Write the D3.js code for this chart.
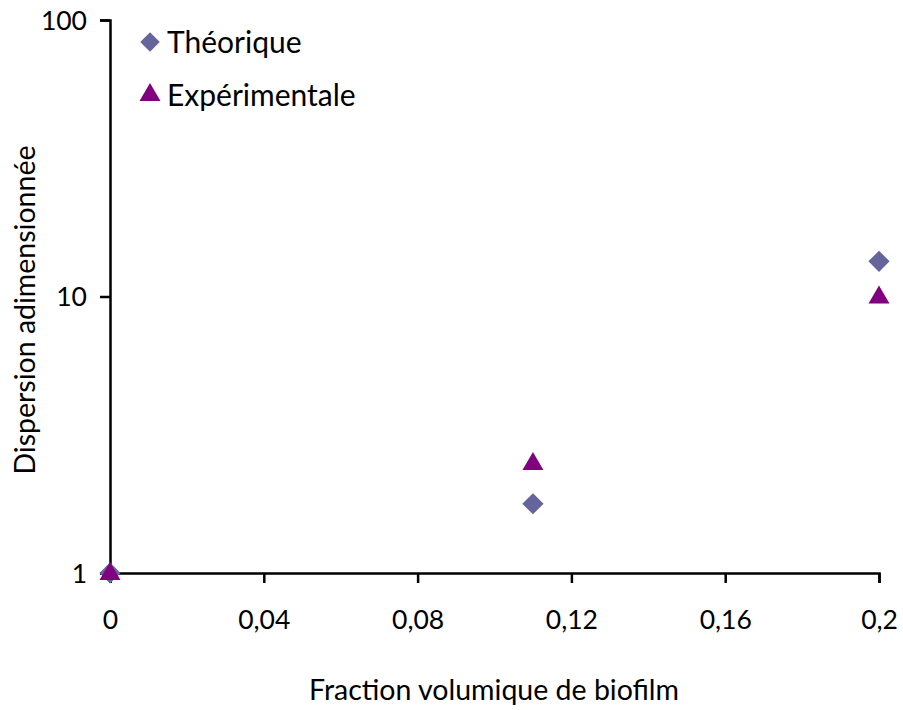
<!DOCTYPE html>
<html><head><meta charset="utf-8">
<script src="https://cdn.jsdelivr.net/npm/d3@7"></script>
<style>body{margin:0;background:#fff;} text{font-family:Lato, "Open Sans", sans-serif;}</style>
</head><body>
<svg id="c" width="903" height="710"></svg>
<script>
const fractions = [0, 0.11, 0.2];
const theorique = [1, 1.78, 13.4];
const experimentale = [1, 2.5, 10];
const xTicks = [0, 0.04, 0.08, 0.12, 0.16, 0.2];
const yTicks = [1, 10, 100];
const seriesNames = ["Théorique", "Expérimentale"];
const colors = ["#65659b", "#800080"];

const svg = d3.select("#c");
const x = d3.scaleLinear().domain([0, 0.2]).range([110, 879]);
const y = d3.scaleLog().domain([1, 100]).range([573, 20]);
const fmt = d => d === 0 ? "0" : String(d).replace(".", ",");

const xAxis = svg.append("g").attr("transform", "translate(0,573)")
  .call(d3.axisBottom(x).tickValues(xTicks).tickFormat(fmt).tickSize(10).tickPadding(27));
const yAxis = svg.append("g").attr("transform", "translate(110,0)")
  .call(d3.axisLeft(y).tickValues(yTicks).tickFormat(d3.format("d")).tickSize(10).tickPadding(13));
[xAxis, yAxis].forEach(a => {
  a.select(".domain").attr("stroke", "#000").attr("stroke-width", 2.5);
  a.selectAll(".tick line").attr("stroke", "#000").attr("stroke-width", 2.5);
  a.selectAll(".tick text").attr("fill", "#000").style("font-size", "26.5px").style("font-family", "Lato, sans-serif");
});
xAxis.selectAll(".tick text").attr("dy", "0.71em");
yAxis.selectAll(".tick text").attr("dy", "0.35em");

svg.append("g").selectAll("path").data(fractions).join("path")
  .attr("d", d3.symbol().type(d3.symbolSquare).size(225))
  .attr("transform", (d,i) => `translate(${x(d)},${y(theorique[i])}) rotate(45)`)
  .attr("fill", colors[0]);
svg.append("g").selectAll("path").data(fractions).join("path")
  .attr("d", d3.symbol().type(d3.symbolTriangle).size(190))
  .attr("transform", (d,i) => `translate(${x(d)},${y(experimentale[i])+1})`)
  .attr("fill", colors[1]);

// legend
const leg = svg.append("g");
leg.append("path").attr("d", d3.symbol().type(d3.symbolSquare).size(190)())
  .attr("transform", "translate(150,42) rotate(45)").attr("fill", colors[0]);
leg.append("path").attr("d", d3.symbol().type(d3.symbolTriangle).size(190)())
  .attr("transform", "translate(150,95)").attr("fill", colors[1]);
leg.selectAll("text").data(seriesNames).join("text")
  .attr("x", 167).attr("y", (d,i) => 42 + i*53).attr("dy", "0.35em")
  .style("font-size", "30px").attr("fill", "#000").text(d => d);

svg.append("text").attr("x", 494).attr("y", 690).attr("dy", "0.35em").attr("text-anchor", "middle")
  .style("font-size", "28.5px").text("Fraction volumique de biofilm");
svg.append("text").attr("transform", "translate(25,310) rotate(-90)").attr("dy", "0.35em").attr("text-anchor", "middle")
  .style("font-size", "28.5px").text("Dispersion adimensionnée");
</script>
</body></html>
